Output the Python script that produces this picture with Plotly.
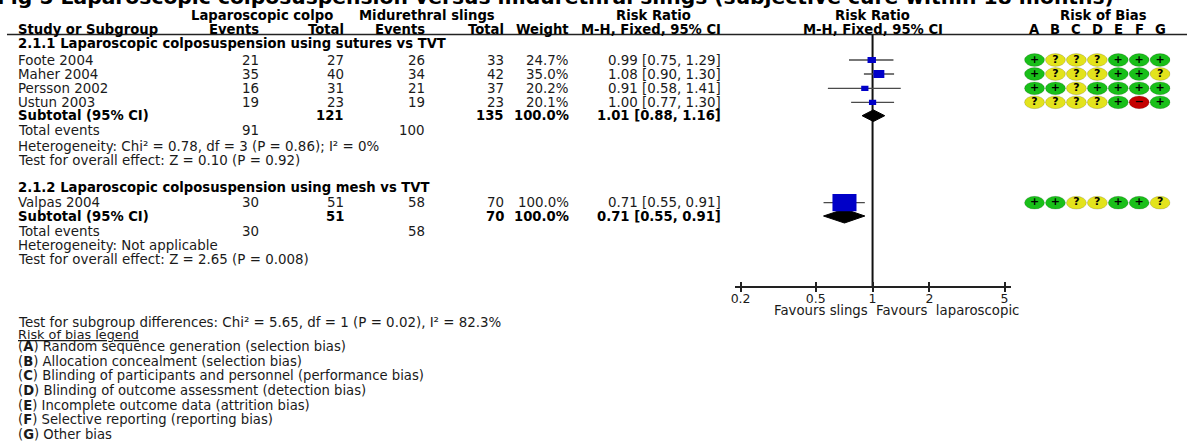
import numpy as np
import plotly.graph_objects as go

# ---------------- data ----------------
studies = ["Foote 2004", "Maher 2004", "Persson 2002", "Ustun 2003", "Valpas 2004"]
lap_events = [21, 35, 16, 19, 30]
lap_total = [27, 40, 31, 23, 51]
sling_events = [26, 34, 21, 19, 58]
sling_total = [33, 42, 37, 23, 70]
weights = [24.7, 35.0, 20.2, 20.1, 100.0]
rr = [0.99, 1.08, 0.91, 1.00, 0.71]
rr_lo = [0.75, 0.90, 0.58, 0.77, 0.55]
rr_hi = [1.29, 1.30, 1.41, 1.30, 0.91]

subgroups = ["2.1.1 Laparoscopic colposuspension using sutures vs TVT",
             "2.1.2 Laparoscopic colposuspension using mesh vs TVT"]
sub_lap_total = [121, 51]
sub_sling_total = [135, 70]
sub_weight = [100.0, 100.0]
sub_rr = [1.01, 0.71]
sub_lo = [0.88, 0.55]
sub_hi = [1.16, 0.91]
sub_lap_events = [91, 30]
sub_sling_events = [100, 58]
heterogeneity = ["Heterogeneity: Chi² = 0.78, df = 3 (P = 0.86); I² = 0%",
                 "Heterogeneity: Not applicable"]
overall_effect = ["Test for overall effect: Z = 0.10 (P = 0.92)",
                  "Test for overall effect: Z = 2.65 (P = 0.008)"]
subgroup_diff = "Test for subgroup differences: Chi² = 5.65, df = 1 (P = 0.02), I² = 82.3%"

bias_domains = ["A", "B", "C", "D", "E", "F", "G"]
bias_judgements = ["+???+++", "+???++?", "++?++++", "????+-+", "++??++?"]
bias_legend = ["Random sequence generation (selection bias)",
               "Allocation concealment (selection bias)",
               "Blinding of participants and personnel (performance bias)",
               "Blinding of outcome assessment (detection bias)",
               "Incomplete outcome data (attrition bias)",
               "Selective reporting (reporting bias)",
               "Other bias"]
axis_ticks = [0.2, 0.5, 1, 2, 5]
axis_ticktext = ["0.2", "0.5", "1", "2", "5"]

title = "Fig 5 Laparoscopic colposuspension versus midurethral slings (subjective cure within 18 months)"

# ---------------- layout (pixel rows) ----------------
W, H = 1187, 441
FONT = "DejaVu Sans"
FS = 13.4
FSB = 13.2
TXT = "#1a1a1a"

study_y = [60, 74, 88.3, 102.3, 202.7]
group_y = [43.5, 187]
subtotal_y = [115.7, 216]
totev_y = [130, 231.7]
het_y = [146, 245.5]
ovr_y = [160, 259.5]
axis_y = 287
legend_y0 = 346.7
legend_dy = 14.6

COL_LAPEV, COL_LAPTOT, COL_SLEV, COL_SLTOT, COL_W, COL_RR = 258, 343, 424, 504, 569, 721
XLEFT = 12

forest_px = (733, 1010)
logrange = [-0.731, 0.731]
rob_px = (1023.5, 1170.5)

ann = []


def txt(x, y, s, anchor="left", bold=False, size=None, xref="x", color=TXT):
    if bold:
        s = "<b>" + s + "</b>"
        color = "#000000"
    if size is None:
        size = FSB if bold else FS
    ann.append(dict(x=x, y=y, xref=xref, yref="y", text=s, showarrow=False,
                    xanchor=anchor, yanchor="middle",
                    font=dict(family=FONT, size=size, color=color)))


# title (clipped at top as in reference)
ann.append(dict(x=-9 / W, y=1 + 2.5 / H, xref="paper", yref="paper", text="<b>" + title + "</b>",
                showarrow=False, xanchor="left", yanchor="middle",
                font=dict(family=FONT, size=20.3, color="#000")))

# column headers
txt(259, 15, "Laparoscopic colpo", "center", True)
txt(424, 15, "Midurethral slings", "center", True)
txt(652, 15, "Risk Ratio", "center", True)
txt(0, 15, "Risk Ratio", "center", True, xref="x2")
txt(1103, 15, "Risk of Bias", "center", True)
hy = 29
txt(XLEFT, hy, "Study or Subgroup", "left", True)
txt(COL_LAPEV, hy, "Events", "right", True)
txt(COL_LAPTOT, hy, "Total", "right", True)
txt(COL_SLEV, hy, "Events", "right", True)
txt(COL_SLTOT, hy, "Total", "right", True)
txt(COL_W, hy, "Weight", "right", True)
txt(COL_RR, hy, "M-H, Fixed, 95% CI", "right", True)
txt(0, hy, "M-H, Fixed, 95% CI", "center", True, xref="x2")
for j, d in enumerate(bias_domains):
    txt(j, hy, d, "center", True, xref="x3")

# study rows
for i, s in enumerate(studies):
    y = study_y[i]
    txt(XLEFT, y, s)
    txt(COL_LAPEV, y, str(lap_events[i]), "right")
    txt(COL_LAPTOT, y, str(lap_total[i]), "right")
    txt(COL_SLEV, y, str(sling_events[i]), "right")
    txt(COL_SLTOT, y, str(sling_total[i]), "right")
    txt(COL_W, y, f"{weights[i]:.1f}%", "right")
    txt(COL_RR, y, f"{rr[i]:.2f} [{rr_lo[i]:.2f}, {rr_hi[i]:.2f}]", "right")

# subgroup rows
for g in range(2):
    txt(XLEFT, group_y[g], subgroups[g], "left", True)
    y = subtotal_y[g]
    txt(XLEFT, y, "Subtotal (95% CI)", "left", True)
    txt(COL_LAPTOT, y, str(sub_lap_total[g]), "right", True)
    txt(COL_SLTOT, y, str(sub_sling_total[g]), "right", True)
    txt(COL_W, y, f"{sub_weight[g]:.1f}%", "right", True)
    txt(COL_RR, y, f"{sub_rr[g]:.2f} [{sub_lo[g]:.2f}, {sub_hi[g]:.2f}]", "right", True)
    y = totev_y[g]
    txt(XLEFT, y, "Total events")
    txt(COL_LAPEV, y, str(sub_lap_events[g]), "right")
    txt(COL_SLEV, y, str(sub_sling_events[g]), "right")
    txt(XLEFT, het_y[g], heterogeneity[g])
    txt(XLEFT, ovr_y[g], overall_effect[g])

# bottom notes
txt(XLEFT, 322, subgroup_diff)
txt(XLEFT, 334, "<u>Risk of bias legend</u>", size=12.8)
for k, (d, s) in enumerate(zip(bias_domains, bias_legend)):
    txt(XLEFT, legend_y0 + k * legend_dy, f"(<b>{d}</b>) {s}", size=13.2)

# favours labels
txt(np.log10(0.975), 310, "Favours slings", "right", size=13.3, xref="x2")
txt(np.log10(1.02), 310, "Favours  laparoscopic", "left", size=13.3, xref="x2")

# ---------------- marks ----------------
fig = go.Figure()
shapes = []

# header rule
shapes.append(dict(type="line", xref="x", yref="y", x0=3, x1=W, y0=34.5, y1=34.5,
                   line=dict(color="#222", width=1.6)))

# null line
fig.add_trace(go.Scatter(x=[0, 0], y=[35, axis_y], xaxis="x2", yaxis="y", mode="lines",
                         line=dict(color="#111", width=2), hoverinfo="skip", showlegend=False))

# whiskers + squares
for i in range(len(studies)):
    y = study_y[i]
    fig.add_trace(go.Scatter(x=[np.log10(rr_lo[i]), np.log10(rr_hi[i])], y=[y, y],
                             xaxis="x2", yaxis="y", mode="lines",
                             line=dict(color="#4a4a4a", width=1.3), hoverinfo="skip", showlegend=False))
    side = 0.76 * weights[i] ** 0.75
    shapes.append(dict(type="rect", xref="x2", yref="y", xsizemode="pixel", ysizemode="pixel",
                       xanchor=np.log10(rr[i]), yanchor=y,
                       x0=-side / 2, x1=side / 2, y0=-side * 0.36, y1=side * 0.36,
                       fillcolor="#0000c8", line=dict(width=0)))

# diamonds
for g in range(2):
    y = subtotal_y[g]
    h = 5.8 if g == 0 else 7
    xs = [np.log10(sub_lo[g]), np.log10(sub_rr[g]), np.log10(sub_hi[g]), np.log10(sub_rr[g]), np.log10(sub_lo[g])]
    ys = [y, y - h, y, y + h, y]
    fig.add_trace(go.Scatter(x=xs, y=ys, xaxis="x2", yaxis="y", mode="lines", fill="toself",
                             fillcolor="#000", line=dict(color="#000", width=1),
                             hoverinfo="skip", showlegend=False))

# risk of bias dots
col = {"+": "#19bf19", "?": "#e3e31c", "-": "#c40000"}
sym = {"+": "+", "?": "?", "-": "−"}
for i, judg in enumerate(bias_judgements):
    y = study_y[i]
    for j, c in enumerate(judg):
        shapes.append(dict(type="circle", xref="x3", yref="y", xsizemode="pixel", ysizemode="pixel",
                           xanchor=j, yanchor=y, x0=-10, x1=10, y0=-6.4, y1=6.4, layer="below",
                           fillcolor=col[c], line=dict(width=0.6, color="rgba(0,0,0,0.25)")))
    fig.add_trace(go.Scatter(x=list(range(len(judg))), y=[y] * len(judg), xaxis="x3", yaxis="y",
                             mode="text", text=["<b>" + sym[c] + "</b>" for c in judg],
                             textfont=dict(family=FONT, size=11, color="#000"),
                             hoverinfo="skip", showlegend=False, cliponaxis=False))

axis_pos = 1 - axis_y / H
fdom = [forest_px[0] / W, forest_px[1] / W]
tickv = list(np.log10(axis_ticks))

fig.update_layout(
    width=W, height=H, margin=dict(l=0, r=0, t=0, b=0),
    paper_bgcolor="white", plot_bgcolor="white", showlegend=False,
    xaxis=dict(range=[0, W], domain=[0, 1], visible=False, fixedrange=True),
    yaxis=dict(range=[H, 0], domain=[0, 1], visible=False, fixedrange=True),
    xaxis2=dict(range=logrange, domain=fdom, anchor="free", position=axis_pos,
                tickvals=tickv, ticktext=axis_ticktext, showline=True, linecolor="#222",
                linewidth=1.5, ticks="inside", ticklen=4, tickwidth=1.5, tickcolor="#222",
                showgrid=False, zeroline=False,
                tickfont=dict(family=FONT, size=12.5, color=TXT)),
    xaxis4=dict(range=logrange, overlaying="x2", anchor="free", position=axis_pos,
                tickvals=tickv, showticklabels=False, showline=False, ticks="outside",
                ticklen=4, tickwidth=1.5, tickcolor="#222", showgrid=False, zeroline=False),
    xaxis3=dict(range=[-0.5, 6.5], domain=[rob_px[0] / W, rob_px[1] / W], anchor="y",
                visible=False),
    shapes=shapes, annotations=ann,
)
# dummy trace so the overlay axis is drawn
fig.add_trace(go.Scatter(x=[0], y=[axis_y], xaxis="x4", yaxis="y", mode="markers",
                         marker=dict(size=0.1, color="rgba(0,0,0,0)"), hoverinfo="skip", showlegend=False))

fig.write_html("out.html", config={"displayModeBar": False},
               post_script="document.body.style.margin='0';")
